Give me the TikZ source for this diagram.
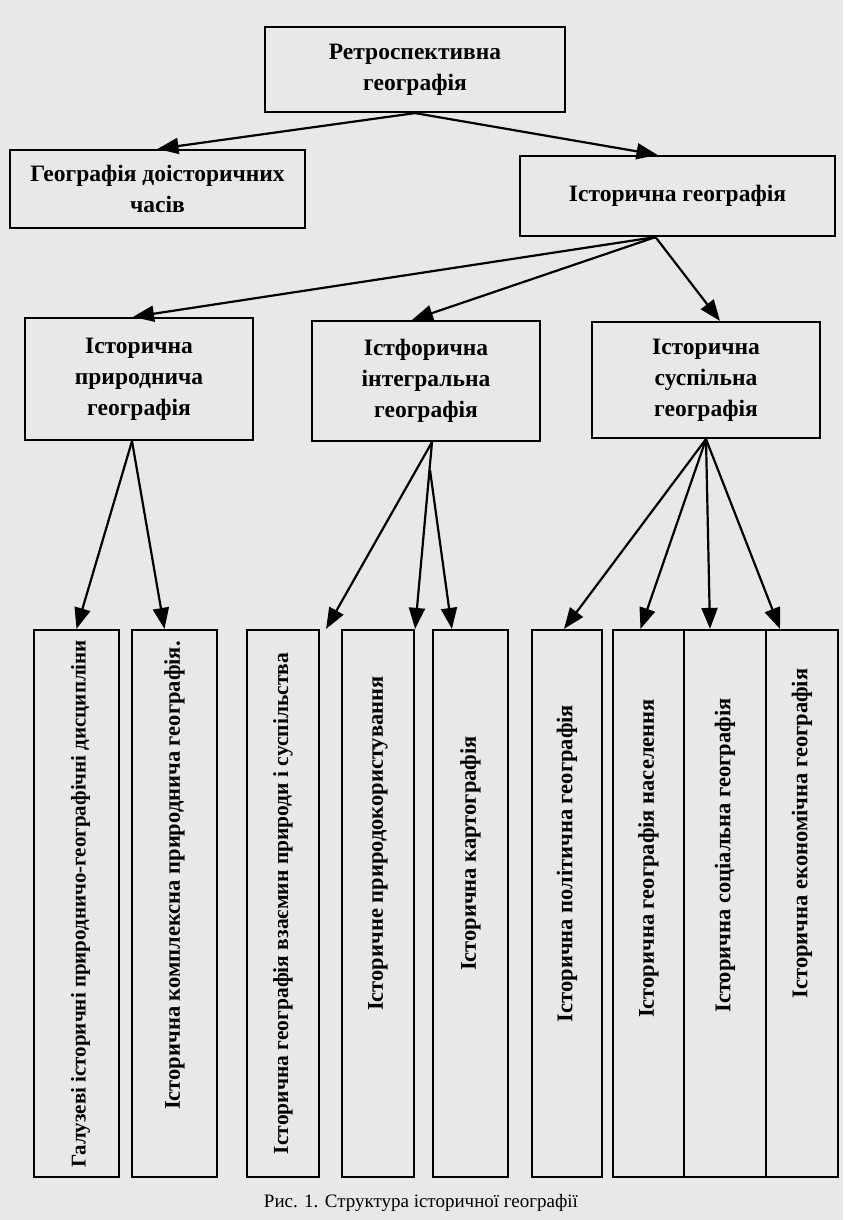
\documentclass[tikz,border=0pt]{standalone}
\usepackage{fontspec}
\setmainfont{Liberation Serif}
\usetikzlibrary{calc,arrows.meta,positioning}

\begin{document}
\begin{tikzpicture}[x=1pt,y=-1pt,
        box/.style={draw, line width=2.2pt, rectangle, inner sep=2pt, align=center,
            font=\bfseries\fontsize{23.5}{31}\selectfont},
        leaf/.style={draw, line width=2.2pt, rectangle, inner sep=0pt, minimum height=547pt},
        leaftxt/.style={rotate=90, inner sep=0pt, font=\bfseries\fontsize{22.5}{25}\selectfont},
        arr/.style={line width=2.2pt, -{Triangle[length=21pt,width=16pt]}}]
        % page
        \useasboundingbox[fill=black!9] (0,0) rectangle (843,1220);
        % levels 1 and 2
        \node[box, minimum width=300pt, minimum height=85pt] (retro) at (415,69.5) {Ретроспективна\\географія};
        \node[box, minimum width=295pt, minimum height=78pt] (prehist) at (157.5,189) {Географія доісторичних\\часів};
        \node[box, minimum width=315pt, minimum height=80pt] (hist) at (677.5,196) {Історична географія};
        % level 3
        \node[box, minimum width=228pt, minimum height=122pt] (nat) at (139,379) {Історична\\природнича\\географія};
        \node[box, minimum width=228pt, minimum height=120pt] (integ) at (426,381) {Істфорична\\інтегральна\\географія};
        \node[box, minimum width=228pt, minimum height=116pt] (soc) at (706,380) {Історична\\суспільна\\географія};
        % level 4
        \node[leaf, minimum width=85pt] (b1) at (76.5,903.5) {};
        \node[leaf, minimum width=85pt] (b2) at (174.5,903.5) {};
        \node[leaf, minimum width=72pt] (b3) at (283,903.5) {};
        \node[leaf, minimum width=72pt] (b4) at (378,903.5) {};
        \node[leaf, minimum width=75pt] (b5) at (470.5,903.5) {};
        \node[leaf, minimum width=70pt] (b6) at (567,903.5) {};
        \node[leaf, minimum width=71pt] (b7) at (648.5,903.5) {};
        \node[leaf, minimum width=82pt] (b8) at (725,903.5) {};
        \node[leaf, minimum width=72pt] (b9) at (802,903.5) {};
        \node[leaftxt, font=\bfseries\fontsize{21}{25}\selectfont] (t1) at ($(b1.center)+(4,0)$) {Галузеві історичні природничо-географічні дисципліни};
        \node[leaftxt] (t2) at ($(b2.center)+(0,-28)$) {Історична комплексна природнича географія.};
        \node[leaftxt, font=\bfseries\fontsize{21.5}{25}\selectfont] (t3) at ($(b3.center)+(0,0)$) {Історична географія взаємин природи і суспільства};
        \node[leaftxt] (t4) at ($(b4.center)+(0,-60)$) {Історичне природокористування};
        \node[leaftxt] (t5) at ($(b5.center)+(0,-50)$) {Історична картографія};
        \node[leaftxt] (t6) at ($(b6.center)+(0,-40)$) {Історична політична географія};
        \node[leaftxt] (t7) at ($(b7.center)+(0,-45)$) {Історична географія населення};
        \node[leaftxt] (t8) at ($(b8.center)+(0,-48)$) {Історична соціальна географія};
        \node[leaftxt] (t9) at ($(b9.center)+(0,-70)$) {Історична економічна географія};
        % caption
        \node[font=\fontsize{19}{23}\selectfont] (cap) at (421,1203) {Рис. 1. Структура історичної географії};
        % arrows
        \coordinate (hs) at ($(hist.south)+(-22,0)$);
        \draw[arr] (retro.south) -- (prehist.north);
        \draw[arr] (retro.south) -- ($(hist.north)+(-20,0)$);
        \draw[arr] (hs) -- ($(nat.north)+(-6,0)$);
        \draw[arr] (hs) -- ($(integ.north)+(-14,0)$);
        \draw[arr] (hs) -- ($(soc.north)+(14,0)$);
        \draw[arr] ($(nat.south)+(-7,0)$) -- (b1.north);
        \draw[arr] ($(nat.south)+(-7,0)$) -- ($(b2.north)+(-10,0)$);
        \draw[arr] ($(integ.south)+(6,0)$) -- ($(b3.north east)+(6,0)$);
        \draw[arr] ($(integ.south)+(6,0)$) -- (b4.north east);
        \draw[arr] ($(integ.south)+(4,28)$) -- ($(b5.north west)+(20,0)$);
        \draw[arr] (soc.south) -- ($(b6.north)+(-3,0)$);
        \draw[arr] (soc.south) -- ($(b7.north)+(-8,0)$);
        \draw[arr] (soc.south) -- ($(b8.north)+(-15,0)$);
        \draw[arr] (soc.south) -- ($(b9.north)+(-22,0)$);
\end{tikzpicture}
\end{document}
